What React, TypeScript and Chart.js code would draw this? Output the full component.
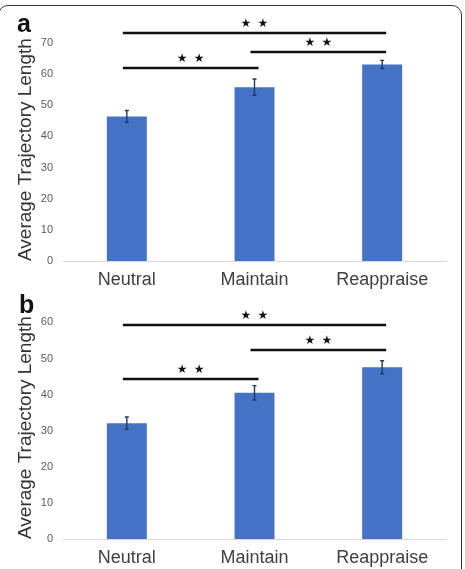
import React, { useEffect, useRef } from "react";
import { Chart, registerables } from "chart.js";

Chart.register(...registerables);

// Conditions shown on both panels
const categories = ["Neutral", "Maintain", "Reappraise"];

// Panel a: means and standard errors
const meansA = [46.4, 55.8, 63.1];
const errorsA = [1.9, 2.6, 1.3];
const yMaxA = 78;
const tickTopA = 70;

// Panel b: means and standard errors
const meansB = [32.1, 40.5, 47.6];
const errorsB = [1.7, 2.0, 1.8];
const yMaxB = 64;
const tickTopB = 60;

// Significance brackets (category index from / to, and the bracket's value level)
const bracketFromA = [0, 1, 0];
const bracketToA = [2, 2, 1];
const bracketLevelA = [73.3, 67.1, 61.8];

const bracketFromB = [0, 1, 0];
const bracketToB = [2, 2, 1];
const bracketLevelB = [59.4, 52.4, 44.4];

const sigMark = "★";

const FONT = "'Liberation Sans', Arial, sans-serif";
const BAR_COLOR = "#4472C4";

type Extras = {
  errors: number[];
  from: number[];
  to: number[];
  level: number[];
};

// Draws error bars and the significance brackets with their stars
const extrasPlugin = {
  id: "extras",
  afterDatasetsDraw(chart: any, _args: any, opts: Extras) {
    const ctx = chart.ctx as CanvasRenderingContext2D;
    const xs = chart.scales.x;
    const ys = chart.scales.y;
    const values = chart.data.datasets[0].data as number[];
    ctx.save();
    // error bars
    ctx.strokeStyle = "#1F3864";
    ctx.lineWidth = 1.4;
    values.forEach((v, i) => {
      const x = xs.getPixelForValue(i);
      const top = ys.getPixelForValue(v + opts.errors[i]);
      const bot = ys.getPixelForValue(v - opts.errors[i]);
      ctx.beginPath();
      ctx.moveTo(x, top);
      ctx.lineTo(x, bot);
      ctx.moveTo(x - 2, top);
      ctx.lineTo(x + 2, top);
      ctx.moveTo(x - 2, bot);
      ctx.lineTo(x + 2, bot);
      ctx.stroke();
    });
    // brackets
    ctx.strokeStyle = "#111";
    ctx.lineWidth = 2.4;
    ctx.fillStyle = "#111";
    ctx.font = "12px 'DejaVu Sans', sans-serif";
    ctx.textAlign = "center";
    ctx.textBaseline = "middle";
    opts.level.forEach((lv, k) => {
      const x1 = xs.getPixelForValue(opts.from[k]) - 4;
      const x2 = xs.getPixelForValue(opts.to[k]) + 4;
      const y = Math.round(ys.getPixelForValue(lv));
      ctx.beginPath();
      ctx.moveTo(x1, y);
      ctx.lineTo(x2, y);
      ctx.stroke();
      const cx = (x1 + x2) / 2;
      ctx.fillText(sigMark, cx - 8.5, y - 9);
      ctx.fillText(sigMark, cx + 8.5, y - 9);
    });
    ctx.restore();
  },
};

type PanelProps = {
  top: number;
  height: number;
  padTop: number;
  axisHeight: number;
  means: number[];
  errors: number[];
  yMax: number;
  tickTop: number;
  from: number[];
  to: number[];
  level: number[];
};

function Panel(p: PanelProps) {
  const ref = useRef<HTMLCanvasElement | null>(null);
  useEffect(() => {
    if (!ref.current) return;
    const chart = new Chart(ref.current, {
      type: "bar",
      data: {
        labels: categories,
        datasets: [
          {
            data: p.means,
            backgroundColor: BAR_COLOR,
            borderWidth: 0,
            categoryPercentage: 1,
            barPercentage: 0.313,
          },
        ],
      },
      options: {
        responsive: false,
        animation: false,
        devicePixelRatio: 1,
        layout: { padding: { top: p.padTop, left: 0, right: 19, bottom: 0 } },
        plugins: {
          legend: { display: false },
          tooltip: { enabled: false },
          extras: { errors: p.errors, from: p.from, to: p.to, level: p.level },
        } as any,
        scales: {
          x: {
            grid: { display: false, drawTicks: false },
            border: { display: true, color: "#D9D9D9", width: 1 },
            ticks: {
              color: "#404040",
              padding: 8,
              font: { family: FONT, size: 18 },
              maxRotation: 0,
            },
            afterFit(scale: any) {
              scale.height = p.axisHeight;
            },
          },
          y: {
            min: 0,
            max: p.yMax,
            grid: { display: false, drawTicks: false },
            border: { display: false },
            ticks: {
              stepSize: 10,
              color: "#595959",
              padding: 10,
              font: { family: FONT, size: 11 },
            },
            afterBuildTicks(scale: any) {
              scale.ticks = scale.ticks.filter((t: any) => t.value <= p.tickTop);
            },
            afterFit(scale: any) {
              scale.width = 63;
            },
            title: {
              display: true,
              text: "Average Trajectory Length",
              align: "start",
              color: "#333333",
              font: { family: FONT, size: 19 },
              padding: { top: 14, bottom: 0 },
            },
          },
        },
      },
      plugins: [extrasPlugin],
    });
    return () => chart.destroy();
  }, []);
  return (
    <canvas
      ref={ref}
      width={465}
      height={p.height}
      style={{ position: "absolute", left: 0, top: p.top, width: 465, height: p.height }}
    />
  );
}

const panelLetter: React.CSSProperties = {
  position: "absolute",
  fontFamily: FONT,
  fontWeight: "bold",
  fontSize: 25,
  lineHeight: "25px",
  color: "#111",
};

export default function App() {
  return (
    <div
      style={{
        position: "fixed",
        left: 0,
        top: 0,
        width: 465,
        height: 569,
        overflow: "hidden",
        background: "#fff",
      }}
    >
      <div
        style={{
          position: "absolute",
          left: -2,
          top: 5,
          width: 464,
          height: 620,
          border: "1px solid #333",
          borderRadius: 10,
          boxSizing: "border-box",
        }}
      />
      <Panel
        top={0}
        height={295}
        padTop={18}
        axisHeight={34}
        means={meansA}
        errors={errorsA}
        yMax={yMaxA}
        tickTop={tickTopA}
        from={bracketFromA}
        to={bracketToA}
        level={bracketLevelA}
      />
      <Panel
        top={285}
        height={284}
        padTop={23}
        axisHeight={30}
        means={meansB}
        errors={errorsB}
        yMax={yMaxB}
        tickTop={tickTopB}
        from={bracketFromB}
        to={bracketToB}
        level={bracketLevelB}
      />
      <div style={{ ...panelLetter, left: 17, top: 11 }}>a</div>
      <div style={{ ...panelLetter, left: 19, top: 292 }}>b</div>
    </div>
  );
}
